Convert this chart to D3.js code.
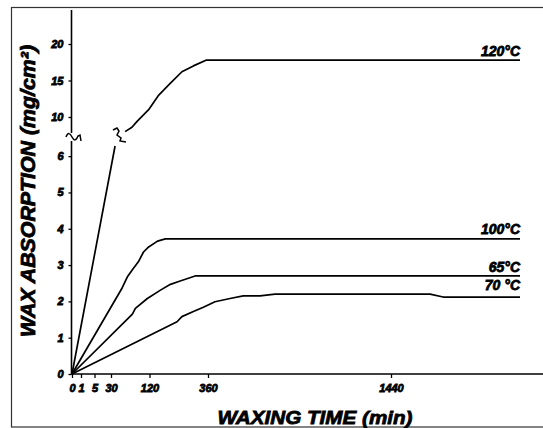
<!DOCTYPE html>
<html lang="en">
<head>
	<meta charset="UTF-8"/>
	<title>Wax absorption vs waxing time</title>
	<script src="https://d3js.org/d3.v7.min.js"></script>
	<style>
		body { margin: 0; background: #fff; }
		text { font-family: "Liberation Sans", Arial, sans-serif; font-weight: bold; font-style: italic; fill: #000; }
	</style>
</head>
<body>
	<div id="chart-container"></div>

	<script>
	var w = 543;
	var h = 428;

	// data
	var seriesNames = ["120°C", "100°C", "65°C", "70 °C"];
	var xTickValues = [0, 1, 5, 30, 120, 360, 1440];
	var xTickLabels = ["0", "1", "5", "30", "120", "360", "1440"];
	var yTickValues = [0, 1, 2, 3, 4, 5, 6, 10, 15, 20];

	// null marks the axis break on the 120 curve
	var time120 = [0, 39.5, null, 63, 79, 91, 118, 158, 205, 253, 300, 354, 2200];
	var wax120  = [0, 6.28, null, 8.0, 8.6, 9.4, 11.0, 13.0, 14.6, 16.2, 17.0, 17.8, 17.8];

	var time100 = [0, 56, 68, 80, 94, 106, 118, 153, 185, 2200];
	var wax100  = [0, 2.37, 2.67, 2.87, 3.09, 3.36, 3.50, 3.66, 3.72, 3.72];

	var time65 = [0, 80, 87, 115, 165, 206, 246, 307, 2200];
	var wax65  = [0, 1.65, 1.81, 2.08, 2.31, 2.47, 2.56, 2.70, 2.70];

	var time70 = [0, 233, 253, 300, 341, 401, 490, 568, 667, 756, 1670, 1747, 2200];
	var wax70  = [0, 1.44, 1.58, 1.72, 1.84, 1.99, 2.08, 2.15, 2.15, 2.20, 2.20, 2.12, 2.12];

	var seriesTimes = [time120, time100, time65, time70];
	var seriesWax = [wax120, wax100, wax65, wax70];

	// hand-drawn, non-uniform axes -> piecewise linear scales
	var xScale = d3.scaleLinear()
		.domain([0, 1, 5, 30, 120, 360, 1440, 2200])
		.range([72, 81, 94.5, 111, 149.5, 208, 391, 520]);

	var yScale = d3.scaleLinear()
		.domain([0, 6.5, 8, 20])
		.range([374, 138, 131.6, 44]);

	var svg = d3.select("#chart-container")
		.append("svg")
		.attr("width", w)
		.attr("height", h);

	// frame
	svg.append("rect")
		.attr("x", 11.5)
		.attr("y", 7.5)
		.attr("width", 600)
		.attr("height", 419.5)
		.attr("fill", "none")
		.attr("stroke", "#333")
		.attr("stroke-width", 1.2);

	// y axis
	var yAxis = svg.append("g")
		.attr("transform", "translate(" + 71.5 + ",0)")
		.call(d3.axisLeft(yScale).tickValues(yTickValues).tickSize(3).tickPadding(5));
	yAxis.select(".domain").remove();
	yAxis.selectAll("line").attr("stroke", "#000").attr("stroke-width", 1.3);
	yAxis.selectAll("text")
		.attr("font-size", "11px")
		.attr("font-family", null)
		.attr("stroke", "#000")
		.attr("stroke-width", 0.8);

	// broken y axis line
	svg.append("line")
		.attr("x1", 71.5).attr("x2", 71.5)
		.attr("y1", yScale(0)).attr("y2", 141)
		.attr("stroke", "#000").attr("stroke-width", 1.6);
	svg.append("line")
		.attr("x1", 71.5).attr("x2", 71.5)
		.attr("y1", 133).attr("y2", 10)
		.attr("stroke", "#000").attr("stroke-width", 1.6);
	svg.append("path")
		.attr("d", "M66,137 C68,132 70,133 72,137 S76,141 78,136 L80,135 L81,141")
		.attr("fill", "none").attr("stroke", "#000").attr("stroke-width", 1.5);

	// x axis
	var xAxis = svg.append("g")
		.attr("transform", "translate(0," + yScale(0) + ")")
		.call(d3.axisBottom(xScale)
			.tickValues(xTickValues)
			.tickFormat(function (d, i) { return xTickLabels[i]; })
			.tickSize(4)
			.tickPadding(6));
	xAxis.select(".domain").remove();
	xAxis.selectAll("line").attr("stroke", "#000").attr("stroke-width", 1.3);
	xAxis.selectAll("text")
		.attr("font-size", "11px")
		.attr("font-family", null)
		.attr("stroke", "#000")
		.attr("stroke-width", 0.8);
	svg.append("line")
		.attr("x1", 71).attr("x2", w)
		.attr("y1", yScale(0)).attr("y2", yScale(0))
		.attr("stroke", "#000").attr("stroke-width", 1.6);

	// curves
	var line = d3.line()
		.defined(function (d) { return d.v !== null; })
		.x(function (d) { return xScale(d.t); })
		.y(function (d) { return yScale(d.v); });

	var series = seriesNames.map(function (name, i) {
		return {
			name: name,
			points: seriesTimes[i].map(function (t, j) {
				return { t: t, v: seriesWax[i][j] };
			})
		};
	});

	svg.selectAll("path.curve")
		.data(series)
		.enter()
		.append("path")
		.attr("class", "curve")
		.attr("d", function (d) { return line(d.points); })
		.attr("fill", "none")
		.attr("stroke", "#000")
		.attr("stroke-width", 1.7)
		.attr("stroke-linejoin", "round");

	// break mark on the 120 curve
	svg.append("path")
		.attr("d", "M113,130 L117,128 L119,131 L117,135 L121,138 L120,141 L126,142")
		.attr("fill", "none").attr("stroke", "#000").attr("stroke-width", 1.5);

	// series labels
	var labelDy = [-4, -5, -4, -7];
	svg.selectAll("text.label")
		.data(series)
		.enter()
		.append("text")
		.attr("class", "label")
		.attr("x", function (d) { return xScale(d.points[d.points.length - 1].t); })
		.attr("y", function (d, i) { return yScale(d.points[d.points.length - 1].v) + labelDy[i]; })
		.attr("text-anchor", "end")
		.attr("font-size", "14px")
		.attr("stroke", "#000")
		.attr("stroke-width", 0.8)
		.text(function (d) { return d.name; });

	// axis titles
	svg.append("text")
		.attr("transform", "translate(35,191) rotate(-90)")
		.attr("text-anchor", "middle")
		.attr("font-size", "20px")
		.attr("textLength", 292)
		.attr("lengthAdjust", "spacingAndGlyphs")
		.attr("stroke", "#000")
		.attr("stroke-width", 0.8)
		.text("WAX ABSORPTION (mg/cm²)");

	svg.append("text")
		.attr("x", 315)
		.attr("y", 424)
		.attr("text-anchor", "middle")
		.attr("font-size", "19px")
		.attr("textLength", 195)
		.attr("lengthAdjust", "spacingAndGlyphs")
		.attr("stroke", "#000")
		.attr("stroke-width", 0.8)
		.text("WAXING TIME (min)");
	</script>
</body>
</html>
